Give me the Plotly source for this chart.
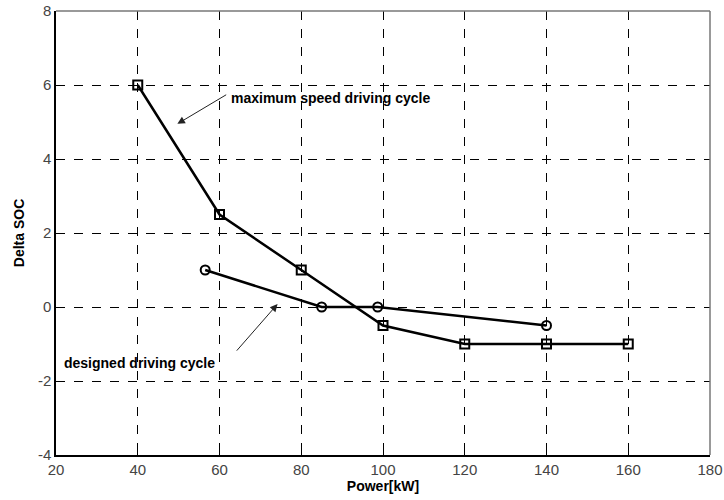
import plotly.graph_objects as go

# Delta SOC versus motor power for two driving cycles
max_speed_power = [40, 60, 80, 100, 120, 140, 160]
max_speed_dsoc = [6, 2.5, 1, -0.5, -1, -1, -1]

designed_power = [56.5, 85, 98.7, 140]
designed_dsoc = [1, 0, 0, -0.5]

x_ticks = [20, 40, 60, 80, 100, 120, 140, 160, 180]
y_ticks = [-4, -2, 0, 2, 4, 6, 8]

fig = go.Figure()

fig.add_trace(go.Scatter(
    x=max_speed_power, y=max_speed_dsoc, mode="lines+markers",
    line=dict(color="black", width=2.5),
    marker=dict(symbol="square-open", size=9, color="black", line=dict(width=2)),
    name="maximum speed driving cycle", showlegend=False,
))
fig.add_trace(go.Scatter(
    x=designed_power, y=designed_dsoc, mode="lines+markers",
    line=dict(color="black", width=2.5),
    marker=dict(symbol="circle-open", size=9, color="black", line=dict(width=2)),
    name="designed driving cycle", showlegend=False,
))

axis_font = dict(family="Liberation Sans, Arial, sans-serif", size=15, color="#444444")
label_font = dict(family="Liberation Sans, Arial, sans-serif", size=14, color="black")

fig.update_xaxes(
    range=[20, 180], tickvals=x_ticks, ticktext=[str(v) for v in x_ticks],
    showgrid=True, gridcolor="black", griddash="dash", gridwidth=1,
    showline=True, linecolor="black", linewidth=1.5,
    ticks="inside", ticklen=4, tickcolor="black",
    tickfont=axis_font, zeroline=False, automargin=False,
    title=dict(text="<b>Power[kW]</b>", font=label_font, standoff=4),
)
fig.update_yaxes(
    range=[-4, 8], tickvals=y_ticks, ticktext=[str(v) for v in y_ticks],
    showgrid=True, gridcolor="black", griddash="dash", gridwidth=1,
    showline=True, linecolor="black", linewidth=1.5,
    ticks="inside", ticklen=4, tickcolor="black",
    tickfont=axis_font, zeroline=False, automargin=False,
    title=dict(text="<b>Delta SOC</b>", font=label_font, standoff=10),
)

# top and right frame edges
fig.add_shape(type="line", xref="paper", yref="paper", x0=0, x1=1, y0=1, y1=1,
              line=dict(color="#777777", width=1.5))
fig.add_shape(type="line", xref="paper", yref="paper", x0=1, x1=1, y0=0, y1=1,
              line=dict(color="#777777", width=1.5))

# callout labels with arrows
fig.add_annotation(x=49.7, y=4.95, ax=62.0, ay=5.76, xref="x", yref="y",
                   axref="x", ayref="y", text="", showarrow=True,
                   arrowhead=2, arrowsize=1.5, arrowwidth=1, arrowcolor="#222222")
fig.add_annotation(x=62.3, y=5.65, xref="x", yref="y", xanchor="left",
                   yanchor="middle", showarrow=False,
                   text="<b>maximum speed driving cycle</b>", font=label_font)

fig.add_annotation(x=74.2, y=0.08, ax=63.9, ay=-1.22, xref="x", yref="y",
                   axref="x", ayref="y", text="", showarrow=True,
                   arrowhead=2, arrowsize=1.5, arrowwidth=1, arrowcolor="#222222")
fig.add_annotation(x=21.4, y=-1.51, xref="x", yref="y", xanchor="left",
                   yanchor="middle", showarrow=False,
                   text="<b>designed driving cycle</b>", font=label_font)

fig.update_layout(
    width=724, height=500,
    margin=dict(l=56, r=14, t=11, b=45),
    paper_bgcolor="white", plot_bgcolor="white",
)

fig.write_html("out.html")
